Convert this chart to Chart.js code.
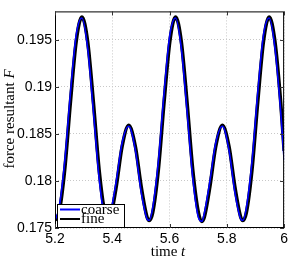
<!DOCTYPE html>
<html>
<head>
<meta charset="utf-8">
<script src="https://cdn.jsdelivr.net/npm/chart.js@4/dist/chart.umd.min.js"></script>
<style>
  html, body { margin: 0; padding: 0; background: #fff; }
  #wrap { width: 291px; height: 259px; }
</style>
</head>
<body>
<div id="wrap"><canvas id="c" width="291" height="259"></canvas></div>
<script>
// tiempos
const times = [5.2, 5.214, 5.234, 5.254, 5.274, 5.294, 5.314, 5.334, 5.354, 5.374, 5.386, 5.394,
  5.414, 5.434, 5.4575, 5.481, 5.501, 5.521, 5.529, 5.541, 5.561, 5.581, 5.601, 5.621, 5.641,
  5.661, 5.681, 5.701, 5.713, 5.721, 5.741, 5.761, 5.7845, 5.808, 5.828, 5.848, 5.856, 5.868,
  5.888, 5.908, 5.928, 5.948, 5.968, 5.988, 6.0];

const fine = [0.1758, 0.1766, 0.1812, 0.1884, 0.1948, 0.1974, 0.1948, 0.1884, 0.1812, 0.1766, 0.1758, 0.1762,
  0.1794, 0.1836, 0.1859, 0.1836, 0.1794, 0.1762, 0.1758, 0.1766, 0.1812, 0.1884, 0.1948, 0.1974, 0.1948,
  0.1884, 0.1812, 0.1766, 0.1757, 0.1761, 0.1794, 0.1836, 0.1859, 0.1836, 0.1794, 0.1762, 0.1758, 0.1766,
  0.1812, 0.1884, 0.1948, 0.1974, 0.1948, 0.1884, 0.1832];

const coarse = [0.1758, 0.1771, 0.1821, 0.1894, 0.1955, 0.1973, 0.1941, 0.1874, 0.1803, 0.1761, 0.1758, 0.1766,
  0.1800, 0.1840, 0.1858, 0.1832, 0.1788, 0.1760, 0.1758, 0.1771, 0.1821, 0.1894, 0.1955, 0.1973, 0.1941,
  0.1874, 0.1803, 0.1761, 0.1757, 0.1765, 0.1800, 0.1840, 0.1858, 0.1832, 0.1788, 0.1760, 0.1758, 0.1771,
  0.1821, 0.1894, 0.1955, 0.1973, 0.1941, 0.1874, 0.1822];

const xTicks = [5.2, 5.4, 5.6, 5.8, 6.0];
const xTickLabels = ['5.2', '5.4', '5.6', '5.8', '6'];
const yTicks = [0.175, 0.18, 0.185, 0.19, 0.195];
const yTickLabels = ['0.175', '0.18', '0.185', '0.19', '0.195'];

const seriesNames = ['coarse', 'fine'];

// marco, ticks interiores, titulos de ejes y leyenda
const matlabFrame = {
  id: 'matlabFrame',
  afterDatasetsDraw(chart) {
    const { ctx, chartArea: a, scales } = chart;
    ctx.save();
    ctx.strokeStyle = '#000';
    ctx.lineWidth = 1;
    ctx.strokeRect(a.left + 0.5, a.top + 0.5, a.right - a.left - 1, a.bottom - a.top - 1);

    ctx.strokeStyle = '#333';
    const tl = 4;
    xTicks.forEach(v => {
      const x = Math.round(scales.x.getPixelForValue(v)) + 0.5;
      ctx.beginPath();
      ctx.moveTo(x, a.bottom); ctx.lineTo(x, a.bottom - tl);
      ctx.moveTo(x, a.top); ctx.lineTo(x, a.top + tl);
      ctx.stroke();
    });
    yTicks.forEach(v => {
      const y = Math.round(scales.y.getPixelForValue(v)) + 0.5;
      ctx.beginPath();
      ctx.moveTo(a.left, y); ctx.lineTo(a.left + tl, y);
      ctx.moveTo(a.right, y); ctx.lineTo(a.right - tl, y);
      ctx.stroke();
    });

    const f1 = '15px "Liberation Serif"', f2 = 'italic 15px "Liberation Serif"';

    // leyenda
    const lx = a.left + 2, ly = a.bottom - 24, lw = 68, lh = 24;
    ctx.fillStyle = '#fff';
    ctx.fillRect(lx, ly, lw, lh);
    ctx.strokeStyle = '#000';
    ctx.strokeRect(lx + 0.5, ly + 0.5, lw - 1, lh - 1);
    const colors = ['#0000ff', '#000000'];
    seriesNames.forEach((name, i) => {
      const yy = ly + 5.5 + i * 9.5;
      ctx.strokeStyle = colors[i];
      ctx.lineWidth = 2;
      ctx.beginPath();
      ctx.moveTo(lx + 3, yy); ctx.lineTo(lx + 23, yy);
      ctx.stroke();
      ctx.fillStyle = '#000';
      ctx.font = f1;
      ctx.textBaseline = 'alphabetic';
      ctx.textAlign = 'left';
      ctx.fillText(name, lx + 24, yy + 4);
    });

    // titulo eje x
    ctx.fillStyle = '#000';
    ctx.textBaseline = 'alphabetic';
    ctx.font = f1; const w1 = ctx.measureText('time ').width;
    ctx.font = f2; const w2 = ctx.measureText('t').width;
    let sx = 168 - (w1 + w2) / 2;
    ctx.font = f1; ctx.fillText('time ', sx, 256);
    ctx.font = f2; ctx.fillText('t', sx + w1, 256);

    // titulo eje y
    ctx.translate(14, 119);
    ctx.rotate(-Math.PI / 2);
    ctx.font = f1; const w3 = ctx.measureText('force resultant ').width;
    ctx.font = f2; const w4 = ctx.measureText('F').width;
    sx = -(w3 + w4) / 2;
    ctx.font = f1; ctx.fillText('force resultant ', sx, 0);
    ctx.font = f2; ctx.fillText('F', sx + w3, 0);
    ctx.restore();
  }
};

new Chart(document.getElementById('c'), {
  type: 'line',
  data: {
    datasets: [
      {
        label: 'coarse',
        data: times.map((t, i) => ({ x: t, y: coarse[i] })),
        borderColor: '#0000ff',
        borderWidth: 1.6,
        pointRadius: 0,
        cubicInterpolationMode: 'monotone',
        order: 0
      },
      {
        label: 'fine',
        data: times.map((t, i) => ({ x: t, y: fine[i] })),
        borderColor: '#000000',
        borderWidth: 3.5,
        pointRadius: 0,
        cubicInterpolationMode: 'monotone',
        order: 1
      }
    ]
  },
  options: {
    responsive: false,
    animation: false,
    events: [],
    layout: { padding: { top: 7, right: 6, left: 0, bottom: 0 } },
    plugins: { legend: { display: false }, tooltip: { enabled: false } },
    scales: {
      x: {
        type: 'linear',
        min: 5.2,
        max: 6.0,
        afterBuildTicks: s => { s.ticks = xTicks.map(v => ({ value: v })); },
        afterFit: s => { s.height = 31; },
        grid: { color: '#c8c8c8', drawTicks: false },
        border: { display: false, dash: [1, 2] },
        ticks: {
          padding: 3,
          color: '#000',
          font: { family: 'Liberation Sans', size: 14 },
          maxRotation: 0,
          callback: v => xTickLabels[xTicks.indexOf(+v.toFixed(1))]
        }
      },
      y: {
        min: 0.175,
        max: 0.198,
        afterBuildTicks: s => { s.ticks = yTicks.map(v => ({ value: v })); },
        afterFit: s => { s.width = 55; },
        grid: { color: '#c8c8c8', drawTicks: false },
        border: { display: false, dash: [1, 2] },
        ticks: {
          padding: 3,
          color: '#000',
          font: { family: 'Liberation Sans', size: 14 },
          callback: v => yTickLabels[yTicks.indexOf(+v.toFixed(3))]
        }
      }
    }
  },
  plugins: [matlabFrame]
});
</script>
</body>
</html>
